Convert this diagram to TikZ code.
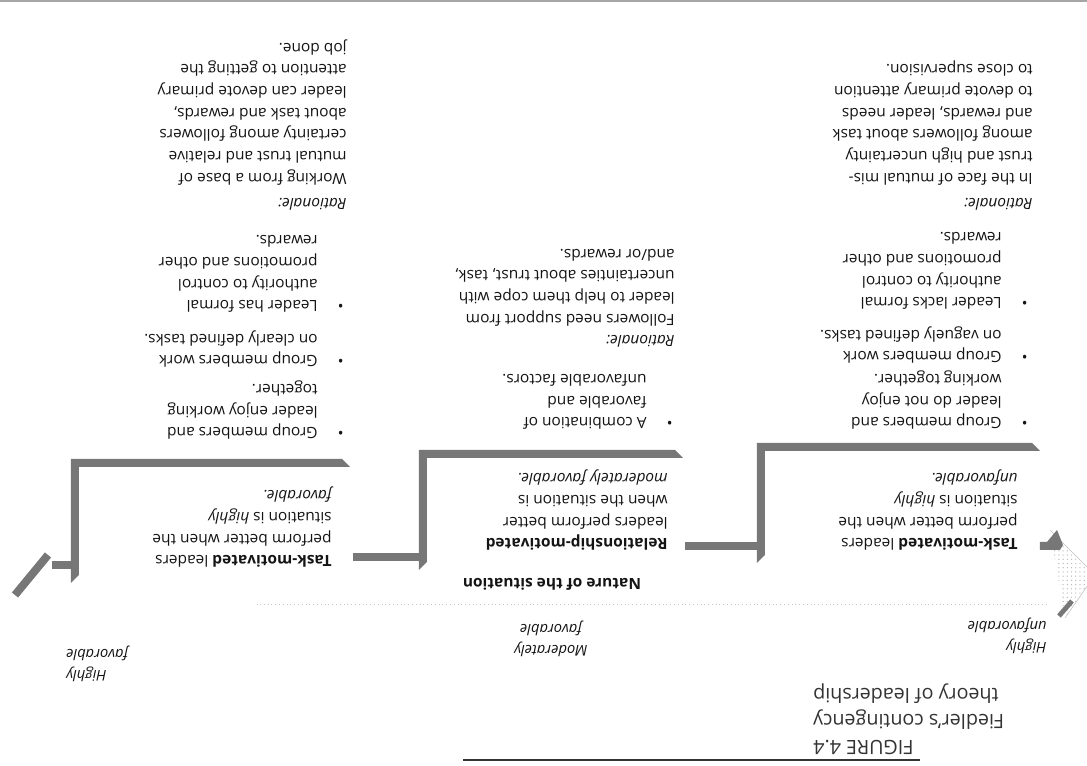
\documentclass[tikz,border=0pt]{standalone}
\usepackage{fontspec}
\setmainfont{Open Sans}
\usetikzlibrary{patterns}
\definecolor{ink}{HTML}{141414}
\definecolor{titleink}{HTML}{333333}
\definecolor{bargray}{HTML}{777777}
\tikzset{
  bodytext/.style={font=\fontsize{11}{15.4}\selectfont, text=ink, align=left,
    inner sep=0pt, anchor=north west},
  headtext/.style={bodytext},
  scalelabel/.style={font=\fontsize{10.5}{15}\selectfont\itshape, text=ink, inner sep=0pt},
  stepbar/.style={fill=bargray},
}
\newcommand{\bul}{\llap{\textbullet\hspace{0.5cm}}}

\begin{document}
\begin{tikzpicture}[x=0.025cm,y=-0.025cm,rotate=180,transform shape]
  \useasboundingbox (0,0) rectangle (1087,766);
  % page edge and title rule
  \draw[gray!70, line width=1.5pt] (0,765) -- (1087,765);
  \draw[titleink, line width=1.2pt] (167,6) -- (624,6);
  \node[bodytext, font=\fontsize{14}{18.5}\selectfont, text=titleink, align=right,
    anchor=north east] (title) at (274,11)
    {FIGURE 4.4\\Fiedler’s contingency\\theory of leadership};

  % the situation scale
  \node[scalelabel, align=left, anchor=north west] (unfav) at (40,112) {Highly\\unfavorable};
  \node[scalelabel, align=center, anchor=north] (modfav) at (536,109) {Moderately\\favorable};
  \node[scalelabel, align=right, anchor=north east] (fav) at (1021,84) {Highly\\favorable};
  \draw[gray!45, dotted, line width=0.7pt] (40,161) -- (830,161);
  \node[font=\fontsize{11}{13}\selectfont\bfseries, text=ink, inner sep=0pt] (nature)
    at (535,182) {Nature of the situation};

  % arrow head at the unfavorable end
  \fill[pattern=dots, pattern color=gray!55] (37,236) -- (-8,191) -- (22,148) -- cycle;
  \draw[gray!50] (37,236) -- (-8,191) -- (22,148);
  \fill[stepbar] (47,216) -- (27,216) -- (24,221) -- (30,236) -- (40,224) -- (47,224) -- cycle;
  \draw[bargray, line width=0.12cm] (28,150) -- (15,165);
  % broken end at the favorable side
  \draw[bargray, line width=0.2cm] (1039,211) -- (1072,171);

  % steps: bar under each heading, rising to the scale
  \foreach \ul/\ur/\vh/\vt in {47/330/319/203, 404/668/312/196, 737/1016/303/183}{
    \fill[stepbar] (\ul,\vh-4) -- (\ur-8,\vh-4) -- (\ur-8,\vt+8) -- (\ur,\vt)
      -- (\ur,\vh+4) -- (\ul+8,\vh+4) -- cycle;
  }
  % pieces of the scale line between the headings
  \foreach \ua/\ub/\v in {330/402/220, 668/734/209, 1016/1035/201}{
    \fill[stepbar] (\ua,\v-4) rectangle (\ub,\v+4);
  }

  % headings
  \node[headtext] (hA) at (69,215) {\textbf{Task-motivated} leaders\\perform better when the\\situation is \textit{highly}\\\textit{unfavorable.}};
  \node[headtext] (hB) at (419,215) {\textbf{Relationship-motivated}\\leaders perform better\\when the situation is\\\textit{moderately favorable.}};
  \node[headtext] (hC) at (755,198) {\textbf{Task-motivated} leaders\\perform better when the\\situation is \textit{highly}\\\textit{favorable.}};

  % left column
  \node[bodytext] (a1) at (85,336) {\bul Group members and\\leader do not enjoy\\working together.};
  \node[bodytext] (a2) at (85,402) {\bul Group members work\\on vaguely defined tasks.};
  \node[bodytext] (a3) at (85,456) {\bul Leader lacks formal\\authority to control\\promotions and other\\rewards.};
  \node[bodytext] (aR) at (54,555) {\textit{Rationale:}\\[3pt]In the face of mutual mis-\\trust and high uncertainty\\among followers about task\\and rewards, leader needs\\to devote primary attention\\to close supervision.};

  % middle column
  \node[bodytext] (b1) at (440,336) {\bul A combination of\\favorable and\\unfavorable factors.};
  \node[bodytext] (bR) at (412,418) {\textit{Rationale:}\\Followers need support from\\leader to help them cope with\\uncertainties about trust, task,\\and/or rewards.};

  % right column
  \node[bodytext] (c1) at (769,326) {\bul Group members and\\leader enjoy working\\together.};
  \node[bodytext] (c2) at (769,398) {\bul Group members work\\on clearly defined tasks.};
  \node[bodytext] (c3) at (769,453) {\bul Leader has formal\\authority to control\\promotions and other\\rewards.};
  \node[bodytext] (cR) at (740,555) {\textit{Rationale:}\\[3pt]Working from a base of\\mutual trust and relative\\certainty among followers\\about task and rewards,\\leader can devote primary\\attention to getting the\\job done.};
\end{tikzpicture}
\end{document}
